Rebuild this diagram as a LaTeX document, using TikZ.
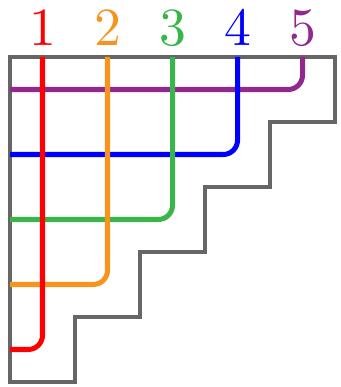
\documentclass[tikz,border=0pt]{standalone}
\usepackage{tikz}
\definecolor{pathorange}{RGB}{247,148,29}
\definecolor{pathgreen}{RGB}{57,181,74}
\definecolor{pathpurple}{RGB}{146,39,143}
\begin{document}
\begin{tikzpicture}[x=1cm, y=1cm]
    \useasboundingbox (-0.154, -5.077) rectangle (5.077, 0.877);
    % staircase outline
    \draw[line width=1.6pt, black!60] (0,0) -- (5,0) -- (5,-1) -- (4,-1) -- (4,-2) -- (3,-2) -- (3,-3) -- (2,-3) -- (2,-4) -- (1,-4) -- (1,-5) -- (0,-5) -- cycle;
    % paths from the top edge to the left edge
    \foreach \k/\col in {5/pathpurple, 4/blue, 3/pathgreen, 2/pathorange, 1/red} {
        \draw[line width=2.2pt, \col, rounded corners=0.22cm] (\k-0.5, 0) -- (\k-0.5, {-(5-\k)-0.5}) -- (0, {-(5-\k)-0.5});
        \node[\col, scale=2.35] (lab\k) at (\k-0.5, 0.44) {$\k$};
    }
\end{tikzpicture}
\end{document}
